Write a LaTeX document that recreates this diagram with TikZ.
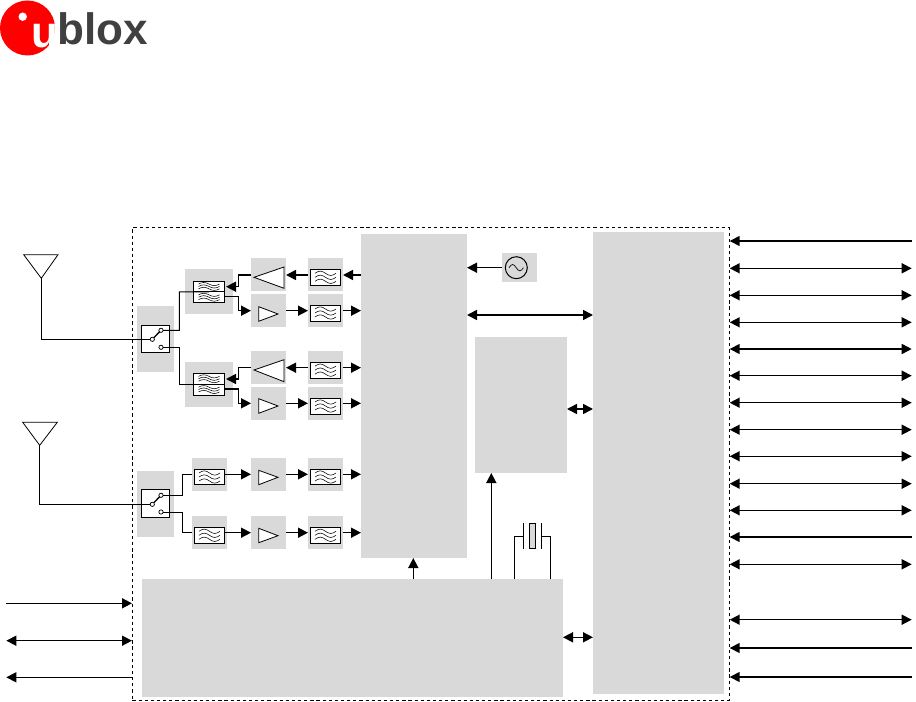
\documentclass[tikz,border=0pt]{standalone}
\usepackage{fontspec}
\setmainfont{Liberation Sans}
\usetikzlibrary{arrows.meta,calc}
\definecolor{gblock}{RGB}{217,217,217}
\definecolor{logored}{RGB}{255,0,0}
\definecolor{logodark}{RGB}{64,64,64}
\tikzset{
  gbox/.style={fill=gblock,draw=none,inner sep=0pt,outer sep=0pt},
  wbox/.style={fill=white,draw=black,line width=0.75pt,inner sep=0pt,outer sep=0pt},
  wire/.style={draw=black,line width=0.75pt},
  sym/.style={draw=black,line width=0.6pt,fill=white,line join=miter},
  wave/.style={draw=black,line width=0.4pt},
  contact/.style={circle,draw=black,fill=white,line width=0.55pt,inner sep=0pt,minimum size=3.2pt,outer sep=0pt},
  arr/.style={draw=black,line width=1.15pt,-{Triangle[length=7.5pt,width=7.5pt]}},
  larr/.style={draw=black,line width=1.15pt,{Triangle[length=7.5pt,width=7.5pt]}-},
  barr/.style={draw=black,line width=1.15pt,{Triangle[length=7.5pt,width=7.5pt]}-{Triangle[length=7.5pt,width=7.5pt]}},
  frameline/.style={draw=black,line width=0.7pt,dash pattern=on 2.4pt off 2.2pt},
}
% #1 name, #2 x1, #3 y1, #4 x2, #5 y2
\newcommand\gblk[5]{%
  \pgfmathsetmacro\gcx{(#2+#4)/2}\pgfmathsetmacro\gcy{(#3+#5)/2}%
  \pgfmathsetmacro\gww{(#4-#2)*0.75}\pgfmathsetmacro\ghh{(#5-#3)*0.75}%
  \node[gbox,minimum width=\gww pt,minimum height=\ghh pt] (#1) at (\gcx,\gcy) {};}
\newcommand\wblk[5]{%
  \pgfmathsetmacro\gcx{(#2+#4)/2}\pgfmathsetmacro\gcy{(#3+#5)/2}%
  \pgfmathsetmacro\gww{(#4-#2)*0.75}\pgfmathsetmacro\ghh{(#5-#3)*0.75}%
  \node[wbox,minimum width=\gww pt,minimum height=\ghh pt] (#1) at (\gcx,\gcy) {};}
% three waves at centre (#1,#2), spacing #3, amplitude #4
\newcommand\waves[4]{%
  \foreach \wd in {-1,0,1}{%
    \pgfmathsetmacro\wy{#2+\wd*#3}\pgfmathsetmacro\wx{#1-10.5}%
    \draw[wave] (\wx,\wy) sin ++(5.25,-#4) cos ++(5.25,#4) sin ++(5.25,#4) cos ++(5.25,-#4);}}
% filter: name x1 y1 x2 y2
\newcommand\filt[5]{%
  \wblk{#1}{#2}{#3}{#4}{#5}%
  \pgfmathsetmacro\fcx{(#2+#4)/2}\pgfmathsetmacro\fcy{(#3+#5)/2}%
  \waves{\fcx}{\fcy}{4}{2.2}}
% duplexer: name x1 y1 x2 y2
\newcommand\dupx[5]{%
  \wblk{#1}{#2}{#3}{#4}{#5}%
  \pgfmathsetmacro\fcx{(#2+#4)/2}\pgfmathsetmacro\fcy{(#3+#5)/2}%
  \pgfmathsetmacro\fua{\fcy-5.4}\pgfmathsetmacro\fub{\fcy+5.4}%
  \waves{\fcx}{\fua}{2.4}{1.6}\waves{\fcx}{\fub}{2.4}{1.6}}
\begin{document}
\begin{tikzpicture}[x=0.75pt,y=-0.75pt]
\useasboundingbox (0,0) rectangle (916,702);
% logo
\fill[logored] (27.5,28) circle (27.5);
\fill[white] (22.7,16.7) circle (4.2);
\node[anchor=base west,inner sep=0pt,text=white,font=\fontsize{33pt}{33pt}\selectfont\bfseries] (logou) at (31,47.5) {u};
\node[anchor=base west,inner sep=0pt,text=logodark,font=\fontsize{33pt}{33pt}\selectfont\bfseries] (logotext) at (57.5,45) {blox};
% grey blocks
\gblk{trx}{361}{234}{467}{558}
\gblk{right}{593}{232}{724}{694}
\gblk{mid}{475}{337}{567}{473}
\gblk{bottom}{142}{579}{563}{697}
\gblk{oscg}{502}{253}{537}{282}
\gblk{swa}{137}{306}{174}{372}
\gblk{swb}{137}{471}{174}{537}
\gblk{dua}{185}{269}{233}{314}
\gblk{dub}{185}{362}{233}{407}
\gblk{paa}{251}{258}{286}{291}
\gblk{fa}{308}{258}{343}{291}
\gblk{lna}{251}{294}{286}{327}
\gblk{fb}{308}{294}{343}{327}
\gblk{pab}{251}{351}{286}{384}
\gblk{fc}{308}{351}{343}{384}
\gblk{lnb}{251}{387}{286}{420}
\gblk{fd}{308}{387}{343}{420}
\gblk{fe1}{192}{458}{227}{491}
\gblk{ae}{251}{458}{286}{491}
\gblk{fe2}{308}{458}{343}{491}
\gblk{ff1}{192}{516}{227}{549}
\gblk{af}{251}{516}{286}{549}
\gblk{ff2}{308}{516}{343}{549}
% frame
\node[frameline,inner sep=0pt,minimum width=447.4pt,minimum height=354.9pt] (frame) at (430.75,464) {};
% row coordinates
\foreach \rn/\ry in {r1/275,r2/310.7,r3/367.7,r4/403.3,r5/474.3,r6/532.7,rosc/267.7,rbus/315,rmid/409,rbot/637.3,
  ra/241,rb/268.3,rc/295.3,rd/322.3,re/349,rf/375.7,rg/402.7,rh/429.7,ri/456.3,rj/483.7,rk/510.3,rl/537,rm/564.3,rn/619.7,ro/648,rp/677,
  lu/603.3,lv/640.7,lw/677.3}{\coordinate (\rn) at (0,\ry);}
\coordinate (extR) at (911.7,0);
\coordinate (extL) at (6.3,0);
% antennas
\coordinate (anta) at (41.3,278.3);
\coordinate (antb) at (39.7,445.3);
\draw[sym,fill=none] (23.7,254.7) -- (58,254.7) -- (anta) -- cycle;
\draw[sym,fill=none] (22.7,422.3) -- (57.3,422.3) -- (antb) -- cycle;
% switches
\wblk{swboxa}{141.3}{325.3}{169.7}{352.3}
\wblk{swboxb}{141.3}{489.3}{169.7}{517.7}
\node[contact] (ca0) at (152.3,339.3) {};
\node[contact] (ca1) at (161,330.3) {};
\node[contact] (ca2) at (161,347.3) {};
\node[contact] (cb0) at (152.3,504.3) {};
\node[contact] (cb1) at (161,495.3) {};
\node[contact] (cb2) at (161,512) {};
\draw[wire,line width=1pt] (ca0) -- (ca1);
\draw[wire,line width=1pt] (cb0) -- (cb1);
\draw[wire] (anta) |- (ca0.west);
\draw[wire] (antb) |- (cb0.west);
% filters, duplexers
\dupx{dupa}{193.3}{281}{224.7}{302.7}
\dupx{dupb}{193.3}{373.3}{224.7}{395}
\filt{fia}{310.3}{269.3}{340.7}{285.3}
\filt{fib}{310.3}{305}{340.7}{321}
\filt{fic}{310.3}{362.3}{340.7}{378}
\filt{fid}{310.3}{398}{340.7}{414}
\filt{fie1}{194.3}{469.3}{224.7}{484.7}
\filt{fie2}{310.3}{469.3}{340.7}{484.7}
\filt{fif1}{194.3}{527.3}{224.7}{543.3}
\filt{fif2}{310.3}{527.3}{340.7}{543.3}
% amplifiers
\draw[sym] (254,277.3) -- (284,267) -- (284,288.3) -- cycle;
\draw[sym] (254,370) -- (284,359.7) -- (284,381.7) -- cycle;
\draw[sym] (258.7,306.7) -- (278,314) -- (258.7,321.3) -- cycle;
\draw[sym] (258.7,398.7) -- (278,406) -- (258.7,413.3) -- cycle;
\draw[sym] (258.7,470.3) -- (278,477.3) -- (258.7,484.7) -- cycle;
\draw[sym] (258.7,528.3) -- (278,535.7) -- (258.7,542.7) -- cycle;
% antenna-switch to duplexer wires
\coordinate (ea) at (179.3,291.85);
\coordinate (eb) at (179.3,384.15);
\draw[wire] (ca1.east) -| (ea) -- (dupa.center);
\draw[wire] (ca2.east) -| (eb) -- (dupb.center);
\draw[wire] (dupa.west) -- (dupa.east);
\draw[wire] (dupb.west) -- (dupb.east);
\coordinate (ec) at (182.3,474.3);
\coordinate (ed) at (182.3,532.7);
\draw[wire] (cb1.east) -| (ec) -- (fe1.west |- ec);
\draw[wire] (cb2.east) -| (ed) -- (ff1.west |- ed);
% RF arrows
\draw[arr] (trx.west |- r1) -- (fa.east |- r1);
\draw[arr] (fa.west |- r1) -- (paa.east |- r1);
\coordinate (tx1) at (238.7,286.7);
\coordinate (tx2) at (226,286.7);
\draw[arr] (paa.west |- r1) -| (tx1) -- (tx2);
\coordinate (rx1) at (224.7,296.3);
\coordinate (rx2) at (238.7,310.7);
\draw[arr] (rx1) -| (rx2) -- (lna.west |- rx2);
\draw[arr] (lna.east |- r2) -- (fb.west |- r2);
\draw[arr] (fb.east |- r2) -- (trx.west |- r2);
\draw[arr] (fc.east |- r3) -- (trx.west |- r3);
\draw[arr] (fc.west |- r3) -- (pab.east |- r3);
\coordinate (tx3) at (238.7,379);
\coordinate (tx4) at (226,379);
\draw[arr] (pab.west |- r3) -| (tx3) -- (tx4);
\coordinate (rx3) at (224.7,389);
\coordinate (rx4) at (238.7,403.3);
\draw[arr] (rx3) -| (rx4) -- (lnb.west |- rx4);
\draw[arr] (lnb.east |- r4) -- (fd.west |- r4);
\draw[arr] (fd.east |- r4) -- (trx.west |- r4);
\draw[arr] (fie1.east |- r5) -- (ae.west |- r5);
\draw[arr] (ae.east |- r5) -- (fe2.west |- r5);
\draw[arr] (fe2.east |- r5) -- (trx.west |- r5);
\draw[arr] (fif1.east |- r6) -- (af.west |- r6);
\draw[arr] (af.east |- r6) -- (ff2.west |- r6);
\draw[arr] (ff2.east |- r6) -- (trx.west |- r6);
% oscillator
\node[circle,draw=black,fill=none,line width=0.75pt,inner sep=0pt,minimum size=16.5pt] (osc) at (516.3,267.7) {};
\draw[wave,line width=0.5pt] (509,267.7) sin ++(3.6,-3.2) cos ++(3.6,3.2) sin ++(3.6,3.2) cos ++(3.6,-3.2);
\draw[arr] (oscg.west |- rosc) -- (trx.east |- rosc);
% buses
\draw[barr] (trx.east |- rbus) -- (right.west |- rbus);
\draw[barr] (mid.east |- rmid) -- (right.west |- rmid);
\draw[barr] (bottom.east |- rbot) -- (right.west |- rbot);
\coordinate (up1) at (413.3,0);
\coordinate (up2) at (491.3,0);
\draw[arr] (bottom.north -| up1) -- (trx.south -| up1);
\draw[arr] (bottom.north -| up2) -- (mid.south -| up2);
% crystal
\coordinate (xa) at (514.3,536.3);
\coordinate (xb) at (550.3,536.3);
\coordinate (pa) at (523.7,536.3);
\coordinate (pb) at (541.3,536.3);
\draw[wire] (bottom.north -| xa) -- (xa) -- (pa);
\draw[wire] (bottom.north -| xb) -- (xb) -- (pb);
\draw[wire] (523.7,523) -- (523.7,548.7);
\draw[wire] (541.3,523) -- (541.3,548.7);
\draw[wire,fill=gblock] (529.3,523.3) rectangle (535.7,548.7);
% left external arrows
\coordinate (fl) at (132,0);
\draw[arr] (extL |- lu) -- (fl |- lu);
\draw[barr] (extL |- lv) -- (fl |- lv);
\draw[larr] (extL |- lw) -- (fl |- lw);
% right external arrows
\coordinate (fr) at (729.7,0);
\foreach \rr in {ra,rl,ro,rp}{\draw[larr] (fr |- \rr) -- (extR |- \rr);}
\foreach \rr in {rb,rc,rd,re,rf,rg,rh,ri,rj,rk,rm,rn}{\draw[barr] (fr |- \rr) -- (extR |- \rr);}
\end{tikzpicture}
\end{document}
